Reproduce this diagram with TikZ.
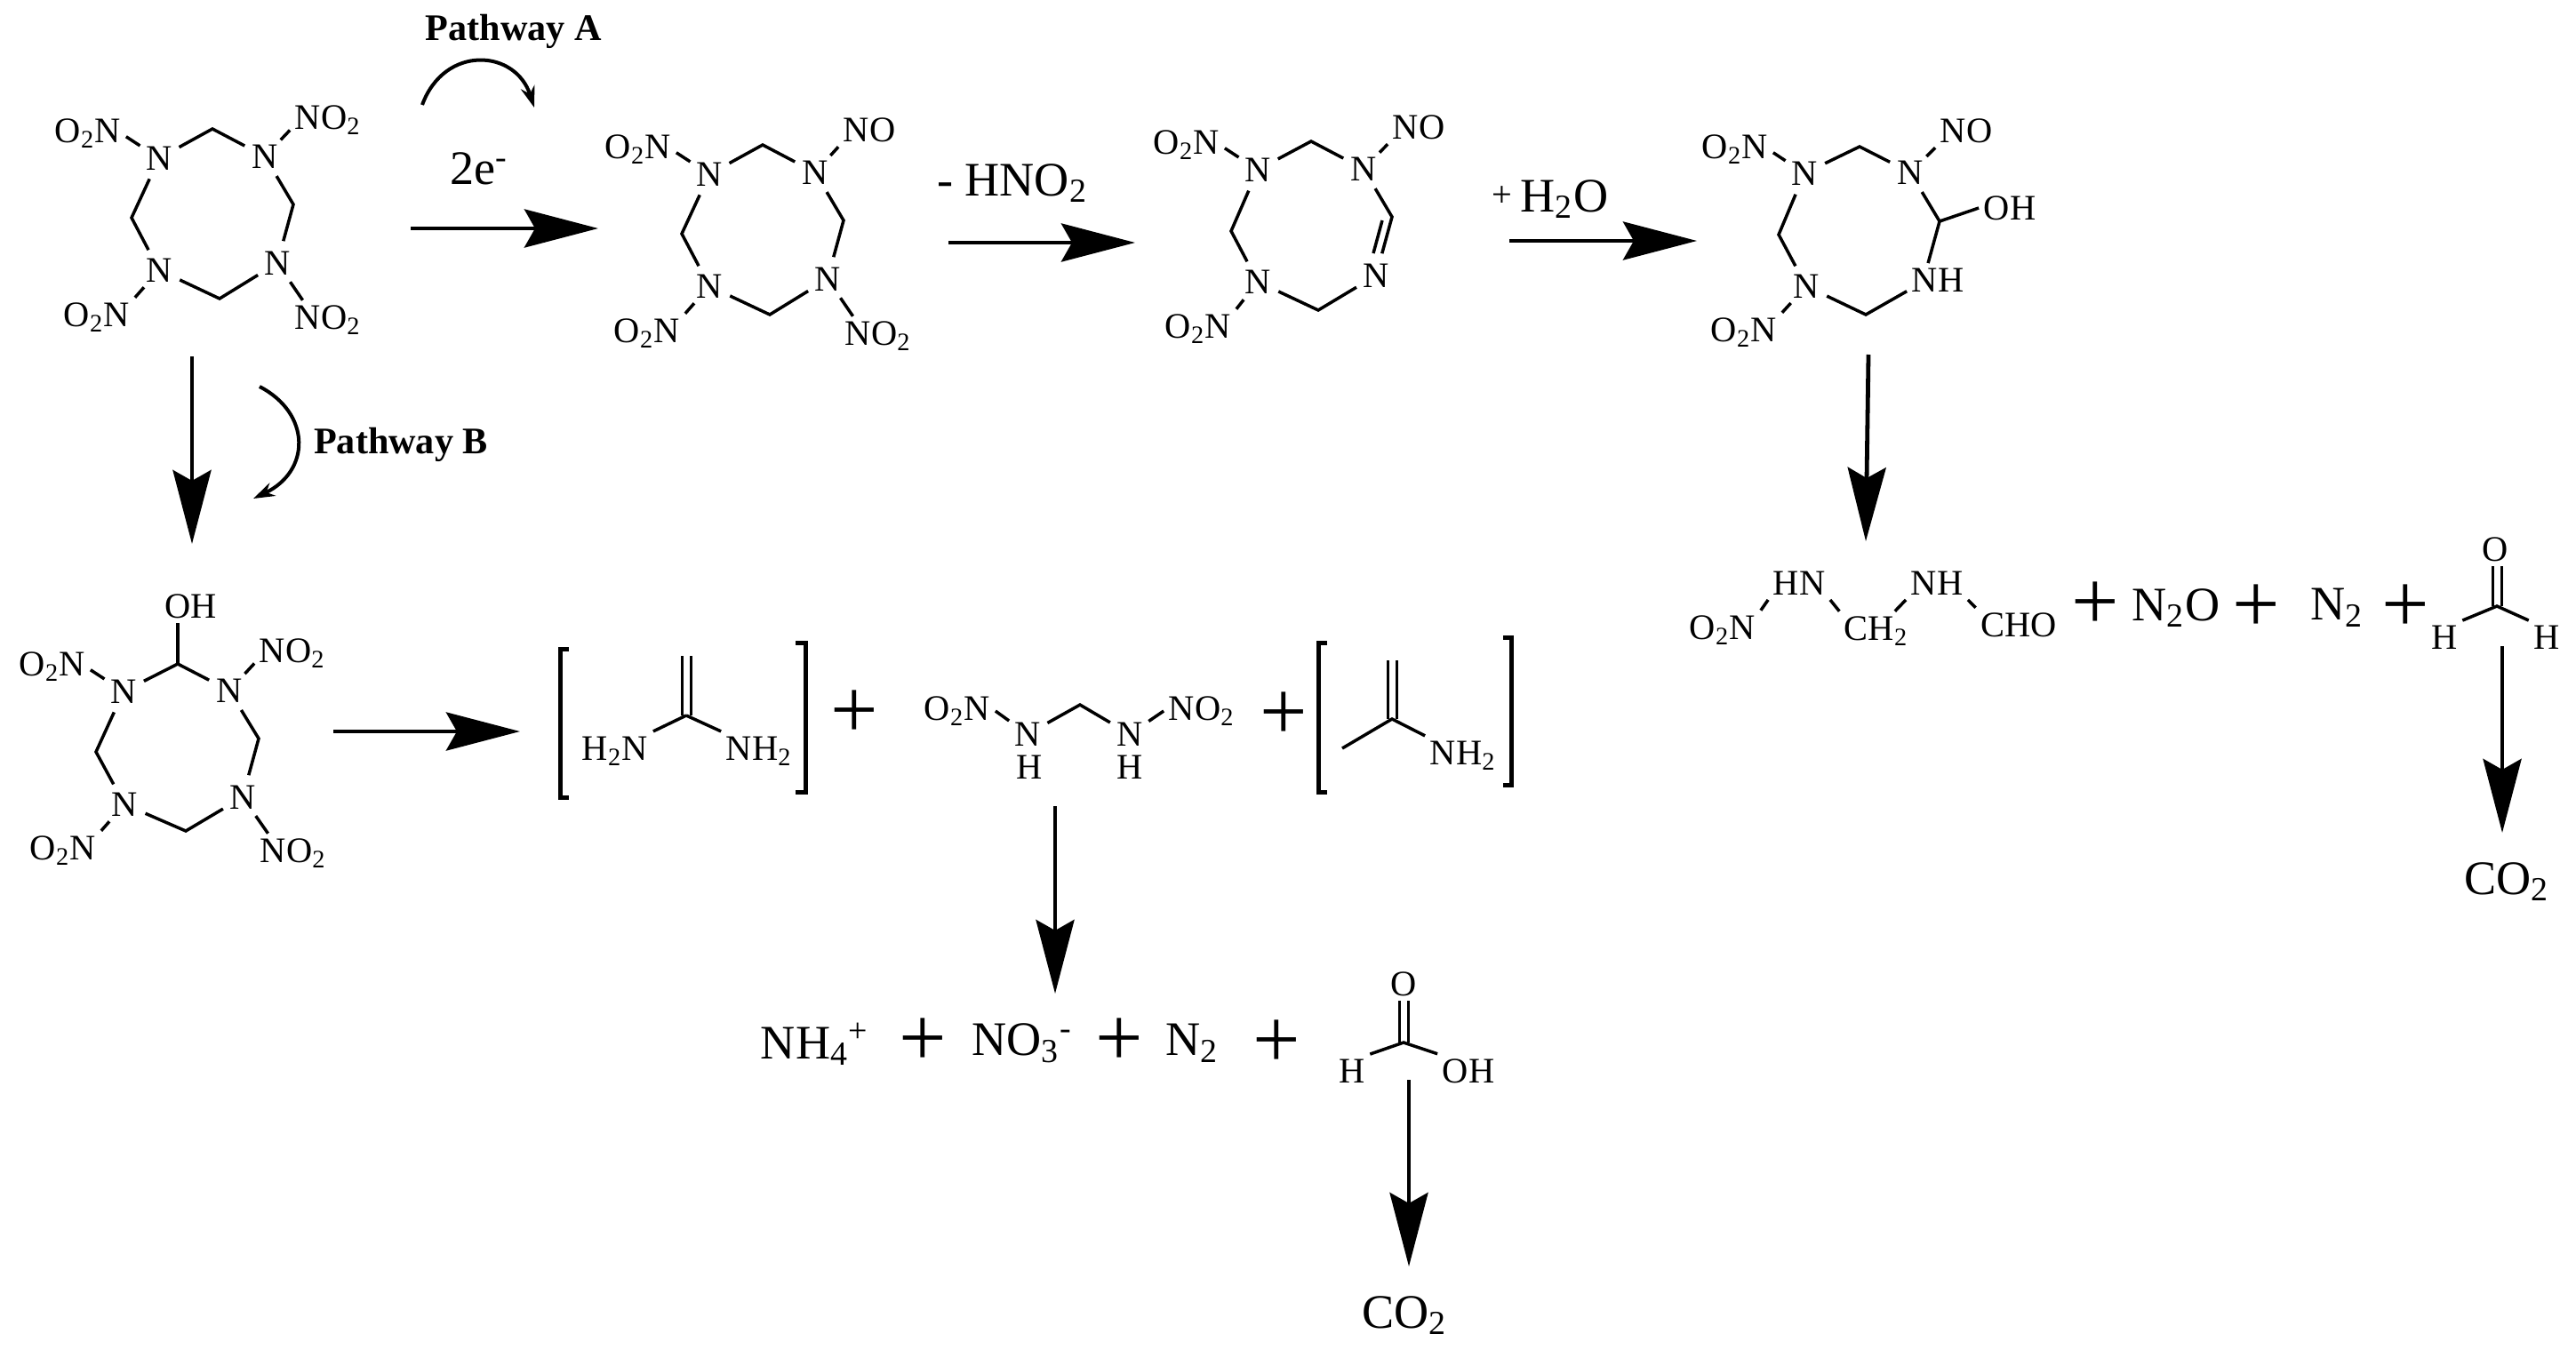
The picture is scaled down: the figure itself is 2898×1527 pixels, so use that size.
\documentclass[tikz,border=0pt]{standalone}
\usepackage{fontspec}
\setmainfont{Liberation Serif}
\usetikzlibrary{arrows.meta}
\begin{document}
\begin{tikzpicture}[x=0.01cm, y=-0.01cm]
\tikzstyle{ringatom} = [circle, minimum size=0.5cm, inner sep=0, font=\fontsize{11.5}{14}\selectfont];
\tikzstyle{subst} = [inner sep=0.05cm, font=\fontsize{11.5}{14}\selectfont];
\tikzstyle{species} = [inner sep=0.05cm, font=\fontsize{15.4}{18}\selectfont];
\tikzstyle{plus} = [inner sep=0, font=\fontsize{27}{30}\selectfont];
\tikzstyle{tag} = [inner sep=0.05cm, font=\fontsize{12}{14}\selectfont\bfseries];
\tikzstyle{bond} = [line width=0.035cm];
\tikzstyle{dbl} = [line width=0.03cm, double, double distance=0.07cm];
\tikzstyle{bracket} = [line width=0.05cm];
\tikzstyle{rxn} = [line width=0.048cm, -{Stealth[length=0.83cm, width=0.43cm, inset=0.12cm]}];
\tikzstyle{curved} = [line width=0.04cm, -{Stealth[length=0.24cm, width=0.16cm]}];
\useasboundingbox (0,0) rectangle (2898,1527);

% starting ring
\node[ringatom] (r1n1) at (179,178) {N};
\node[ringatom] (r1n2) at (298,176) {N};
\node[ringatom] (r1n3) at (179,304) {N};
\node[ringatom] (r1n4) at (312,296) {N};
\coordinate (r1ct) at (239,145);
\coordinate (r1cl) at (148,245);
\coordinate (r1cr) at (330,230);
\coordinate (r1cb) at (247,336);
\node[subst] (r1o1) at (99,150) {O\textsubscript{2}N};
\node[subst] (r1o2) at (369,135) {NO\textsubscript{2}};
\node[subst] (r1o3) at (109,357) {O\textsubscript{2}N};
\node[subst] (r1o4) at (369,360) {NO\textsubscript{2}};
\draw[bond] (r1n1) -- (r1ct) -- (r1n2);
\draw[bond] (r1n2) -- (r1cr) -- (r1n4);
\draw[bond] (r1n4) -- (r1cb) -- (r1n3);
\draw[bond] (r1n3) -- (r1cl) -- (r1n1);
\draw[bond] (r1n1) -- (r1o1.-5);
\draw[bond] (r1n2) -- (r1o2.195);
\draw[bond] (r1n3) -- (r1o3.north east);
\draw[bond] (r1n4) -- (r1o4.142);

% pathway A, first nitroso ring
\node[ringatom] (r2n1) at (798,196) {N};
\node[ringatom] (r2n2) at (917,194) {N};
\node[ringatom] (r2n3) at (798,322) {N};
\node[ringatom] (r2n4) at (931,314) {N};
\coordinate (r2ct) at (858,163);
\coordinate (r2cl) at (767,263);
\coordinate (r2cr) at (949,248);
\coordinate (r2cb) at (866,354);
\node[subst] (r2o1) at (718,168) {O\textsubscript{2}N};
\node[subst] (r2o2) at (978,146) {NO};
\node[subst] (r2o3) at (728,375) {O\textsubscript{2}N};
\node[subst] (r2o4) at (988,378) {NO\textsubscript{2}};
\draw[bond] (r2n1) -- (r2ct) -- (r2n2);
\draw[bond] (r2n2) -- (r2cr) -- (r2n4);
\draw[bond] (r2n4) -- (r2cb) -- (r2n3);
\draw[bond] (r2n3) -- (r2cl) -- (r2n1);
\draw[bond] (r2n1) -- (r2o1.-5);
\draw[bond] (r2n2) -- (r2o2.south west);
\draw[bond] (r2n3) -- (r2o3.north east);
\draw[bond] (r2n4) -- (r2o4.142);

% ring with C=N
\node[ringatom] (r3n1) at (1415,191) {N};
\node[ringatom] (r3n2) at (1534,190) {N};
\node[ringatom] (r3n3) at (1415,317) {N};
\node[ringatom] (r3n4) at (1548,310) {N};
\coordinate (r3ct) at (1475,159);
\coordinate (r3cl) at (1385,260);
\coordinate (r3cr) at (1566,244);
\coordinate (r3cb) at (1483,349);
\coordinate (r3d1) at (1555,248);
\coordinate (r3d2) at (1545,285);
\node[subst] (r3o1) at (1335,163) {O\textsubscript{2}N};
\node[subst] (r3o2) at (1596,143) {NO};
\node[subst] (r3o3) at (1348,370) {O\textsubscript{2}N};
\draw[bond] (r3n1) -- (r3ct) -- (r3n2);
\draw[bond] (r3n2) -- (r3cr) -- (r3n4);
\draw[bond] (r3d1) -- (r3d2);
\draw[bond] (r3n4) -- (r3cb) -- (r3n3);
\draw[bond] (r3n3) -- (r3cl) -- (r3n1);
\draw[bond] (r3n1) -- (r3o1.-5);
\draw[bond] (r3n2) -- (r3o2.south west);
\draw[bond] (r3n3) -- (r3o3.north east);

% hydrated ring
\node[ringatom] (r4n1) at (2030,195) {N};
\node[ringatom] (r4n2) at (2149,194) {N};
\node[ringatom] (r4n3) at (2032,322) {N};
\node[subst] (r4nh) at (2180,315) {NH};
\coordinate (r4ct) at (2092,165);
\coordinate (r4cl) at (2001,264);
\coordinate (r4cr) at (2182,249);
\coordinate (r4cb) at (2099,354);
\node[subst] (r4o1) at (1952,168) {O\textsubscript{2}N};
\node[subst] (r4o2) at (2212,147) {NO};
\node[subst] (r4o3) at (1962,374) {O\textsubscript{2}N};
\node[subst] (r4oh) at (2261,234) {OH};
\draw[bond] (r4n1) -- (r4ct) -- (r4n2);
\draw[bond] (r4n2) -- (r4cr) -- (r4nh.120);
\draw[bond] (r4nh.200) -- (r4cb) -- (r4n3);
\draw[bond] (r4n3) -- (r4cl) -- (r4n1);
\draw[bond] (r4cr) -- (r4oh.west);
\draw[bond] (r4n1) -- (r4o1.-5);
\draw[bond] (r4n2) -- (r4o2.south west);
\draw[bond] (r4n3) -- (r4o3.north east);

% pathway B ring
\node[ringatom] (r5n1) at (139,778) {N};
\node[ringatom] (r5n2) at (258,777) {N};
\node[ringatom] (r5n3) at (140,905) {N};
\node[ringatom] (r5n4) at (273,897) {N};
\coordinate (r5ct) at (200,747);
\coordinate (r5cl) at (108,846);
\coordinate (r5cr) at (291,831);
\coordinate (r5cb) at (209,935);
\node[subst] (r5oh) at (215,682) {OH};
\node[subst] (r5o1) at (59,750) {O\textsubscript{2}N};
\node[subst] (r5o2) at (329,735) {NO\textsubscript{2}};
\node[subst] (r5o3) at (71,957) {O\textsubscript{2}N};
\node[subst] (r5o4) at (330,960) {NO\textsubscript{2}};
\draw[bond] (r5n1) -- (r5ct) -- (r5n2);
\draw[bond] (r5n2) -- (r5cr) -- (r5n4);
\draw[bond] (r5n4) -- (r5cb) -- (r5n3);
\draw[bond] (r5n3) -- (r5cl) -- (r5n1);
\draw[bond] (r5ct) -- (r5ct |- r5oh.south);
\draw[bond] (r5n1) -- (r5o1.-5);
\draw[bond] (r5n2) -- (r5o2.195);
\draw[bond] (r5n3) -- (r5o3.north east);
\draw[bond] (r5n4) -- (r5o4.142);

% first bracket
\draw[bracket] (640,730) -- (630,730) -- (630,897) -- (640,897);
\draw[bracket] (895,723) -- (906,723) -- (906,891) -- (895,891);
\coordinate (g1t) at (772,738);
\coordinate (g1c) at (772,805);
\node[subst] (g1l) at (692,845) {H\textsubscript{2}N};
\node[subst] (g1r) at (854,845) {NH\textsubscript{2}};
\draw[dbl] (g1t) -- (g1c);
\draw[bond] (g1c) -- (g1l.north east);
\draw[bond] (g1c) -- (g1r.north west);
\node[plus] (p1) at (961,804) {+};

% dinitro fragment
\node[subst] (d1o) at (1077,800) {O\textsubscript{2}N};
\node[ringatom] (d1n) at (1156,826) {N};
\node[subst] (d1h) at (1158,863) {H};
\coordinate (d1c) at (1215,793);
\node[ringatom] (d2n) at (1271,826) {N};
\node[subst] (d2h) at (1271,863) {H};
\node[subst] (d2o) at (1352,800) {NO\textsubscript{2}};
\draw[bond] (d1o.east) -- (d1n);
\draw[bond] (d1n) -- (d1c) -- (d2n);
\draw[bond] (d2n) -- (d2o.west);
\node[plus] (p2) at (1444,806) {+};

% second bracket
\draw[bracket] (1493,723) -- (1483,723) -- (1483,891) -- (1493,891);
\draw[bracket] (1691,717) -- (1700,717) -- (1700,883) -- (1691,883);
\coordinate (g2t) at (1566,743);
\coordinate (g2c) at (1566,809);
\coordinate (g2l) at (1510,842);
\node[subst] (g2r) at (1646,850) {NH\textsubscript{2}};
\draw[dbl] (g2t) -- (g2c);
\draw[bond] (g2l) -- (g2c) -- (g2r.north west);

% products of pathway A
\node[subst] (f1) at (1938,709) {O\textsubscript{2}N};
\node[subst] (f2) at (2024,656) {HN};
\node[subst] (f3) at (2111,710) {CH\textsubscript{2}};
\node[subst] (f4) at (2179,656) {NH};
\node[subst] (f5) at (2271,703) {CHO};
\draw[bond] (f1.north east) -- (f2.south west);
\draw[bond] (f2.south east) -- (f3.north west);
\draw[bond] (f3.47) -- (f4.south west);
\draw[bond] (f4.south east) -- (f5.north west);
\node[plus] (p3) at (2357,682) {+};
\node[species] (n2o) at (2448,684) {N\textsubscript{2}O};
\node[plus] (p4) at (2538,685) {+};
\node[species] (n2a) at (2629,684) {N\textsubscript{2}};
\node[plus] (p5) at (2706,685) {+};
\node[subst] (hco) at (2807,618) {O};
\coordinate (hcc) at (2809,682);
\node[subst] (hcl) at (2750,717) {H};
\node[subst] (hcr) at (2865,717) {H};
\draw[dbl] (hcc) -- (hcc |- hco.south);
\draw[bond] (hcl.north east) -- (hcc) -- (hcr.north west);
\node[species] (co2a) at (2820,992) {CO\textsubscript{2}};

% products of pathway B
\node[species] (nh4) at (917,1175) {NH\textsubscript{4}\textsuperscript{+}};
\node[plus] (p6) at (1038,1173) {+};
\node[species] (no3) at (1150,1174) {NO\textsubscript{3}\textsuperscript{-}};
\node[plus] (p7) at (1259,1173) {+};
\node[species] (n2b) at (1341,1174) {N\textsubscript{2}};
\node[plus] (p8) at (1436,1175) {+};
\node[subst] (fao) at (1579,1107) {O};
\coordinate (fac) at (1579,1173);
\node[subst] (fah) at (1521,1205) {H};
\node[subst] (faoh) at (1652,1205) {OH};
\draw[dbl] (fac) -- (fac |- fao.south);
\draw[bond] (fah.north east) -- (fac) -- (faoh.north west);
\node[species] (co2b) at (1580,1480) {CO\textsubscript{2}};

% arrows
\coordinate (a1s) at (462,257);
\coordinate (a1e) at (673,257);
\coordinate (a2s) at (1067,273);
\coordinate (a2e) at (1277,273);
\coordinate (a3s) at (1698,271);
\coordinate (a3e) at (1909,271);
\coordinate (a4s) at (2102,399);
\coordinate (a4e) at (2099,609);
\coordinate (a5s) at (2815,727);
\coordinate (a5e) at (2815,937);
\coordinate (b1s) at (216,401);
\coordinate (b1e) at (216,612);
\coordinate (b2s) at (375,823);
\coordinate (b2e) at (585,823);
\coordinate (b3s) at (1187,907);
\coordinate (b3e) at (1187,1118);
\coordinate (b4s) at (1585,1215);
\coordinate (b4e) at (1585,1425);
\draw[rxn] (a1s) -- (a1e);
\draw[rxn] (a2s) -- (a2e);
\draw[rxn] (a3s) -- (a3e);
\draw[rxn] (a4s) -- (a4e);
\draw[rxn] (a5s) -- (a5e);
\draw[rxn] (b1s) -- (b1e);
\draw[rxn] (b2s) -- (b2e);
\draw[rxn] (b3s) -- (b3e);
\draw[rxn] (b4s) -- (b4e);
\coordinate (ca1) at (475,118);
\coordinate (ca2) at (601,121);
\coordinate (cb1) at (292,435);
\coordinate (cb2) at (285,561);
\draw[curved] (ca1) .. controls (500,50) and (580,55) .. (ca2);
\draw[curved] (cb1) .. controls (350,465) and (350,530) .. (cb2);

% labels
\node[tag] (pa) at (578,35) {Pathway A};
\node[tag] (pb) at (451,500) {Pathway B};
\node[species] (el) at (539,190) {2e\textsuperscript{-}};
\node[species] (hno) at (1139,206) {- HNO\textsubscript{2}};
\node[species] (hoh) at (1744,224) {{\fontsize{11.5}{14}\selectfont\raisebox{0.06cm}{+}}\,H\textsubscript{2}O};
\end{tikzpicture}
\end{document}
